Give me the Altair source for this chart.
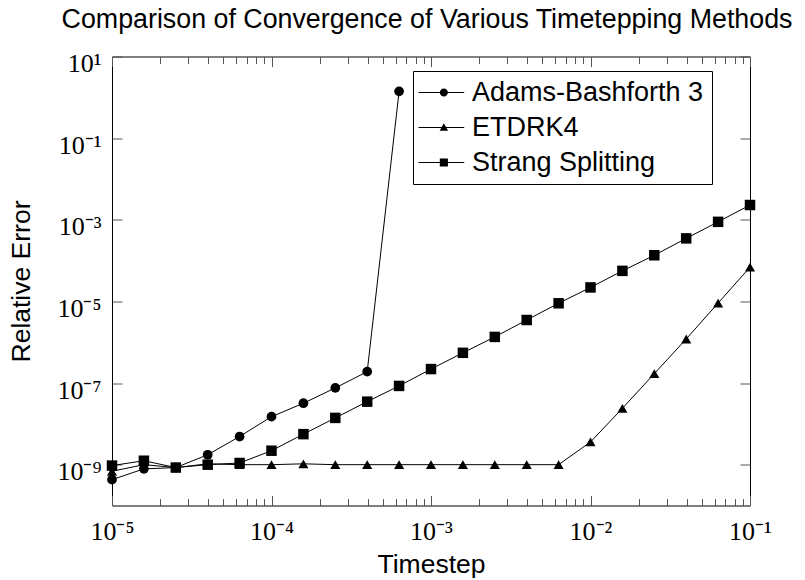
import altair as alt
import pandas as pd

# ---- data ----
series_names = ["Adams-Bashforth 3", "ETDRK4", "Strang Splitting"]

timesteps = [1.0e-5, 1.585e-5, 2.512e-5, 3.981e-5, 6.310e-5,
             1.0e-4, 1.585e-4, 2.512e-4, 3.981e-4, 6.310e-4,
             1.0e-3, 1.585e-3, 2.512e-3, 3.981e-3, 6.310e-3,
             1.0e-2, 1.585e-2, 2.512e-2, 3.981e-2, 6.310e-2,
             1.0e-1]

ab3 = [4.3e-10, 7.9e-10, 8.5e-10, 1.75e-9, 4.9e-9, 1.5e-8, 3.2e-8, 7.6e-8,
       1.9e-7, 1.4]

etdrk4 = [6.9e-10, 1.0e-9, 8.5e-10, 1.05e-9, 1.0e-9, 1.0e-9, 1.05e-9, 1.0e-9,
          1.0e-9, 1.0e-9, 1.0e-9, 1.0e-9, 1.0e-9, 1.0e-9, 1.0e-9, 3.6e-9,
          2.4e-8, 1.7e-7, 1.2e-6, 9.1e-6, 6.9e-5]

strang = [9.5e-10, 1.25e-9, 8.5e-10, 1.0e-9, 1.1e-9, 2.2e-9, 5.6e-9, 1.4e-8,
          3.5e-8, 8.5e-8, 2.2e-7, 5.5e-7, 1.35e-6, 3.5e-6, 9.0e-6, 2.2e-5,
          5.6e-5, 1.35e-4, 3.5e-4, 8.9e-4, 2.3e-3]

x_major = [1e-5, 1e-4, 1e-3, 1e-2, 1e-1]
x_minor = [m * d for d in [1e-5, 1e-4, 1e-3, 1e-2] for m in range(2, 10)]
y_major = [10, 1e-1, 1e-3, 1e-5, 1e-7, 1e-9]

rows = []
for name, vals in zip(series_names, [ab3, etdrk4, strang]):
    for t, e in zip(timesteps, vals):
        rows.append({"series": name, "t": t, "err": e})
df = pd.DataFrame(rows)

# ---- styling ----
W, H = 638, 449
SANS = "Liberation Sans"
SERIF = "Liberation Serif"

sup = {"-": "\u207b", "0": "\u2070", "1": "\u00b9", "2": "\u00b2", "3": "\u00b3",
       "4": "\u2074", "5": "\u2075", "6": "\u2076", "7": "\u2077", "8": "\u2078",
       "9": "\u2079"}
labels = ["10" + "".join(sup[c] for c in str(e)) for e in range(-10, 2)]
label_expr = "[" + ",".join("'" + s + "'" for s in labels) + "][round(log(datum.value)/LN10)+10]"

xs = alt.Scale(type="log", domain=[1e-5, 1e-1], nice=False)
ys = alt.Scale(type="log", domain=[1e-10, 10], nice=False)

TICK = "#555555"


def xaxis_ticks(orient, values, size):
    return alt.Axis(orient=orient, values=values, labels=False, domain=False,
                    grid=False, ticks=True, tickSize=size, offset=-size,
                    tickColor=TICK, tickWidth=1, title=None)


def yaxis_ticks(orient, size):
    return alt.Axis(orient=orient, values=y_major, labels=False, domain=False,
                    grid=False, ticks=True, tickSize=size, offset=-size,
                    tickColor=TICK, tickWidth=1, title=None)


x_main = alt.Axis(orient="bottom", values=x_major, labelExpr=label_expr,
                  ticks=False, tickSize=0, domain=False, grid=False,
                  labelFont=SERIF, labelFontSize=26, labelColor="black",
                  labelBaseline="alphabetic", labelPadding=33.8,
                  labelFlush=False, labelOverlap=False, labelBound=False,
                  title="Timestep", titleFont=SANS, titleFontSize=26.5,
                  titleFontWeight="normal", titleColor="black",
                  titleX=W / 2, titleY=67, titleBaseline="alphabetic",
                  titleAlign="center")

y_main = alt.Axis(orient="left", values=y_major, labelExpr=label_expr,
                  ticks=False, tickSize=0, domain=False, grid=False,
                  labelFont=SERIF, labelFontSize=26, labelColor="black",
                  labelAlign="right", labelBaseline="alphabetic",
                  labelOffset=15, labelPadding=11,
                  labelFlush=False, labelOverlap=False, labelBound=False,
                  title="Relative Error", titleFont=SANS, titleFontSize=26.5,
                  titleFontWeight="normal", titleColor="black",
                  titleAngle=270, titleX=-83, titleY=H / 2,
                  titleBaseline="alphabetic", titleAlign="center")

base = alt.Chart(df)

lines = base.mark_line(color="black", strokeWidth=1).encode(
    x=alt.X("t:Q", scale=xs, axis=x_main),
    y=alt.Y("err:Q", scale=ys, axis=y_main),
    detail="series:N",
    order="t:Q",
)

points = base.mark_point(filled=True, color="black", opacity=1).encode(
    x=alt.X("t:Q", scale=xs, axis=xaxis_ticks("bottom", x_major, 10)),
    y=alt.Y("err:Q", scale=ys, axis=yaxis_ticks("left", 10)),
    shape=alt.Shape("series:N", scale=alt.Scale(domain=series_names,
                    range=["circle", "triangle-up", "square"]), legend=None),
    size=alt.Size("series:N", scale=alt.Scale(domain=series_names,
                  range=[95, 110, 100]), legend=None),
)

# legend symbols: a thin bar (the line) with a marker in its middle (unit = 9 px)
line_rect = "M-1.78,-0.06L3.3,-0.06L3.3,0.06L-1.78,0.06Z"
circle_p = "M1.49,0A0.45,0.45,0,1,1,0.59,0A0.45,0.45,0,1,1,1.49,0Z"
tri_p = "M1.04,-0.46L1.51,0.36L0.57,0.36Z"
square_p = "M0.59,-0.45L1.49,-0.45L1.49,0.45L0.59,0.45Z"
leg_paths = [line_rect + circle_p, line_rect + tri_p, line_rect + square_p]

legend_layer = base.transform_filter("false").mark_point(
    filled=True, color="black"
).encode(
    x=alt.X("t:Q", scale=xs, axis=xaxis_ticks("bottom", x_minor, 7)),
    y=alt.Y("err:Q", scale=ys, axis=yaxis_ticks("right", 10)),
    shape=alt.Shape("series:N",
                    scale=alt.Scale(domain=series_names, range=leg_paths),
                    legend=alt.Legend(
                        title=None, orient="none", legendX=301, legendY=14.5,
                        padding=8, rowPadding=7, labelOffset=24,
                        labelExpr="datum.label + '\u2006'",
                        labelFont=SANS, labelFontSize=27, labelLimit=500,
                        labelColor="black",
                        symbolSize=324, symbolStrokeWidth=0, symbolOpacity=1,
                        symbolFillColor="black",
                        strokeColor="black", fillColor="white")),
)

top_major = base.transform_filter("false").mark_point().encode(
    x=alt.X("t:Q", scale=xs, axis=xaxis_ticks("top", x_major, 10)),
    y=alt.Y("err:Q", scale=ys, axis=None),
)

top_minor = base.transform_filter("false").mark_point().encode(
    x=alt.X("t:Q", scale=xs, axis=xaxis_ticks("top", x_minor, 7)),
    y=alt.Y("err:Q", scale=ys, axis=None),
)

chart = alt.layer(lines, points, legend_layer, top_major, top_minor).resolve_axis(
    x="independent", y="independent"
).resolve_scale(
    shape="independent", size="independent"
).properties(
    width=W, height=H,
    autosize=alt.AutoSizeParams(type="none"),
    padding={"left": 112, "top": 56.5, "right": 805 - 112 - W, "bottom": 580 - 56.5 - H},
    title=alt.TitleParams(
        text="Comparison of Convergence of Various Timetepping Methods",
        font=SANS, fontSize=26.8, fontWeight="normal", color="black",
        anchor="middle", frame="group", dx=-4, dy=12, offset=8,
        baseline="alphabetic",
    ),
    background="white",
).configure_view(stroke="black", strokeWidth=1)

chart.save("out.html", embed_options={"renderer": "svg", "actions": False})
